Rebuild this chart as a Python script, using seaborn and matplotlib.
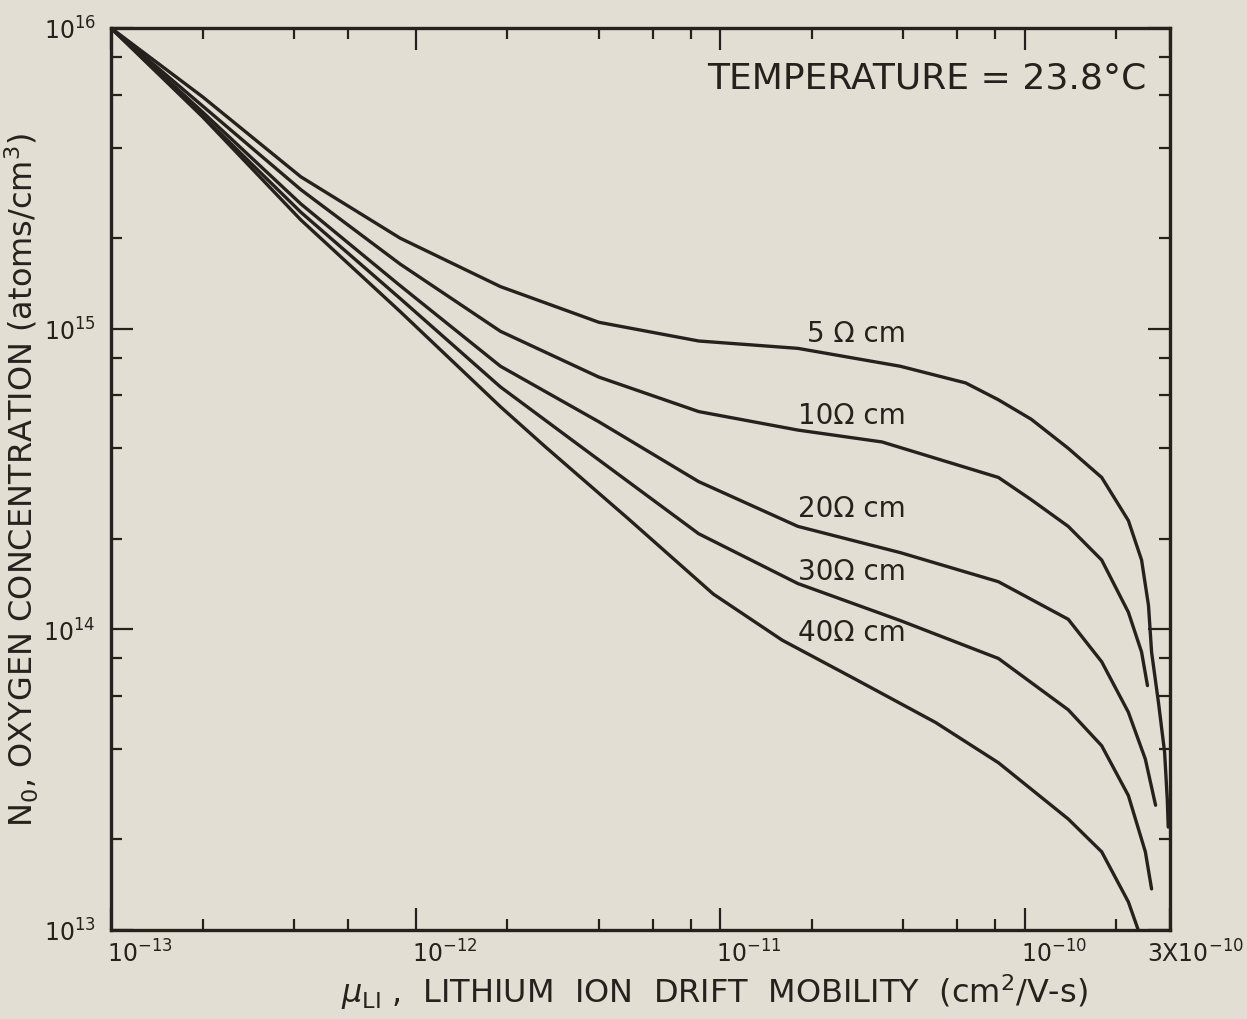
import numpy as np
import pandas as pd
import matplotlib
matplotlib.use("Agg")
import matplotlib.pyplot as plt
import seaborn as sns
from matplotlib.ticker import FixedLocator, NullFormatter
from matplotlib.transforms import ScaledTranslation

# ---------------- data ----------------
curve_names = ["5 Ω cm", "10Ω cm", "20Ω cm", "30Ω cm", "40Ω cm"]

mob_5 = [1.0e-13, 2.0e-13, 4.2e-13, 8.9e-13, 1.9e-12, 4.0e-12, 8.5e-12, 1.8e-11,
         3.9e-11, 6.4e-11, 8.2e-11, 1.05e-10, 1.39e-10, 1.79e-10, 2.19e-10, 2.42e-10,
         2.55e-10, 2.61e-10, 2.75e-10, 2.88e-10, 2.94e-10, 2.96e-10]
conc_5 = [1.0e16, 5.9e15, 3.2e15, 2.0e15, 1.38e15, 1.05e15, 9.1e14, 8.6e14,
          7.5e14, 6.6e14, 5.8e14, 5.0e14, 4.0e14, 3.2e14, 2.3e14, 1.7e14,
          1.2e14, 8.4e13, 5.7e13, 3.9e13, 2.7e13, 2.2e13]

mob_10 = [1.0e-13, 2.0e-13, 4.2e-13, 8.9e-13, 1.9e-12, 4.0e-12, 8.5e-12, 1.8e-11,
          3.4e-11, 5.6e-11, 8.2e-11, 1.05e-10, 1.39e-10, 1.79e-10, 2.19e-10,
          2.42e-10, 2.53e-10]
conc_10 = [1.0e16, 5.5e15, 2.9e15, 1.64e15, 9.8e14, 6.9e14, 5.3e14, 4.6e14,
           4.2e14, 3.6e14, 3.2e14, 2.7e14, 2.2e14, 1.7e14, 1.14e14,
           8.4e13, 6.5e13]

mob_20 = [1.0e-13, 2.0e-13, 4.2e-13, 8.9e-13, 1.9e-12, 4.0e-12, 8.5e-12, 1.8e-11,
          3.9e-11, 8.2e-11, 1.39e-10, 1.79e-10, 2.19e-10, 2.49e-10, 2.69e-10]
conc_20 = [1.0e16, 5.25e15, 2.6e15, 1.39e15, 7.5e14, 4.9e14, 3.1e14, 2.2e14,
           1.8e14, 1.44e14, 1.08e14, 7.8e13, 5.3e13, 3.7e13, 2.6e13]

mob_30 = [1.0e-13, 2.0e-13, 4.2e-13, 8.9e-13, 1.9e-12, 3.55e-12, 8.5e-12, 1.8e-11,
          3.9e-11, 8.2e-11, 1.39e-10, 1.79e-10, 2.19e-10, 2.49e-10, 2.61e-10]
conc_30 = [1.0e16, 5.1e15, 2.44e15, 1.26e15, 6.4e14, 4.0e14, 2.08e14, 1.42e14,
           1.07e14, 8.0e13, 5.4e13, 4.1e13, 2.8e13, 1.82e13, 1.37e13]

mob_40 = [1.0e-13, 2.0e-13, 4.2e-13, 8.9e-13, 1.9e-12, 2.65e-12, 5.0e-12, 9.5e-12,
          1.6e-11, 2.8e-11, 5.1e-11, 8.2e-11, 1.39e-10, 1.79e-10, 2.19e-10, 2.36e-10]
conc_40 = [1.0e16, 5.06e15, 2.3e15, 1.14e15, 5.5e14, 4.07e14, 2.33e14, 1.31e14,
           9.2e13, 6.8e13, 4.9e13, 3.6e13, 2.34e13, 1.82e13, 1.24e13, 1.0e13]

x_major = [1e-13, 1e-12, 1e-11, 1e-10, 3e-10]
x_tick_labels = [r"$10^{-13}$", r"$10^{-12}$", r"$10^{-11}$", r"$10^{-10}$", r"3X$10^{-10}$"]
y_major = [1e13, 1e14, 1e15, 1e16]
y_tick_labels = [r"$10^{13}$", r"$10^{14}$", r"$10^{15}$", r"$10^{16}$"]

title_text = "TEMPERATURE = 23.8°C"
x_label = r"$\mu_{\rm LI}$ ,  LITHIUM  ION  DRIFT  MOBILITY  (cm$^2$/V-s)"
y_label = r"N$_0$, OXYGEN CONCENTRATION (atoms/cm$^3$)"

# curve label anchor (right edge x, centre y) in data units
label_x = 4.07e-11
label_y = [9.7e14, 5.16e14, 2.53e14, 1.56e14, 9.8e13]

# ---------------- figure ----------------
sns.set_theme(style="ticks")
plt.rcParams['font.family'] = ['DejaVu Sans']
plt.rcParams['mathtext.fontset'] = 'dejavusans'

BG = '#e2ded3'
INK = '#26211d'

series = [mob_5, mob_10, mob_20, mob_30, mob_40]
values = [conc_5, conc_10, conc_20, conc_30, conc_40]
rows = []
for name, xs, ys in zip(curve_names, series, values):
    for i, (xv, yv) in enumerate(zip(xs, ys)):
        rows.append({"curve": name, "mobility": xv, "conc": yv, "idx": i})
df = pd.DataFrame(rows)

W, H = 1247, 1020
fig = plt.figure(figsize=(W / 100, H / 100), dpi=100, facecolor=BG)
L, R, T, B = 111, 1170, 29, 931
ax = fig.add_axes([L / W, 1 - B / H, (R - L) / W, (B - T) / H])
ax.set_facecolor(BG)
ax.set_xscale('log')
ax.set_yscale('log')

sns.lineplot(data=df, x="mobility", y="conc", hue="curve", hue_order=curve_names,
             palette={n: INK for n in curve_names}, sort=False, estimator=None,
             legend=False, linewidth=2.4, ax=ax)
for ln in ax.lines:
    ln.set_solid_joinstyle('round')
    ln.set_solid_capstyle('round')

ax.set_xlim(1e-13, 3e-10)
ax.set_ylim(1e13, 1e16)

# ticks
ax.xaxis.set_major_locator(FixedLocator(x_major))
ax.set_xticklabels(x_tick_labels)
x_minor = [m * 10.0 ** e for e in (-13, -12, -11, -10) for m in (2, 4, 6, 8)
           if m * 10.0 ** e < 3e-10 and not (e == -13 and m == 8)]
ax.xaxis.set_minor_locator(FixedLocator(x_minor))
ax.xaxis.set_minor_formatter(NullFormatter())

ax.yaxis.set_major_locator(FixedLocator(y_major))
ax.set_yticklabels(y_tick_labels)
y_minor = [m * 10.0 ** e for e in (13, 14, 15) for m in (2, 4, 6, 8)]
ax.yaxis.set_minor_locator(FixedLocator(y_minor))
ax.yaxis.set_minor_formatter(NullFormatter())

ax.tick_params(which='both', direction='in', top=True, right=True,
               color=INK, width=1.6, labelcolor=INK)
ax.tick_params(which='major', length=16)
ax.tick_params(which='minor', length=8)
ax.tick_params(axis='x', which='major', pad=7, labelsize=17)
ax.tick_params(axis='y', which='major', pad=11, labelsize=17)

for sp in ax.spines.values():
    sp.set_visible(True)
    sp.set_color(INK)
    sp.set_linewidth(2.4)

for k, lbl in enumerate(ax.get_xticklabels()):
    if k == len(x_major) - 1:
        lbl.set_ha('center')
        lbl.set_transform(lbl.get_transform() + ScaledTranslation(0.25, 0, fig.dpi_scale_trans))
    else:
        lbl.set_ha('left')
        lbl.set_transform(lbl.get_transform() + ScaledTranslation(-0.04, 0, fig.dpi_scale_trans))

ax.set_xlabel(x_label, fontsize=23, color=INK)
ax.xaxis.set_label_coords(0.57, -0.046)
ax.set_ylabel(y_label, fontsize=23, color=INK)
ax.yaxis.set_label_coords(-0.066, 0.5)

for name, ly in zip(curve_names, label_y):
    ax.text(label_x, ly, name, ha='right', va='center', fontsize=20, color=INK)

ax.text(0.978, 0.945, title_text, transform=ax.transAxes, ha='right', va='center',
        fontsize=26, color=INK)

fig.savefig("out.png", dpi=100, facecolor=BG)
